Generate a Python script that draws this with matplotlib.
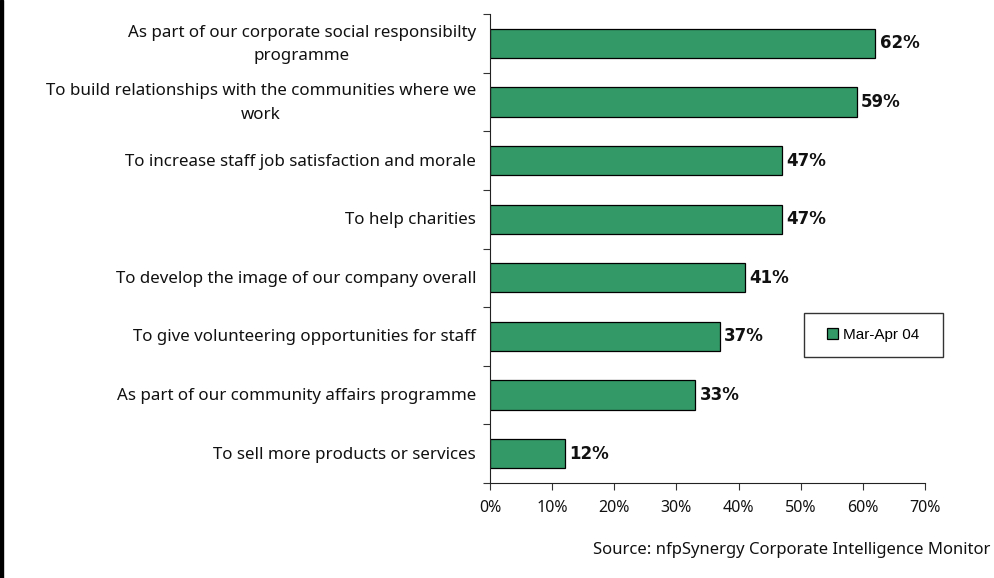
import matplotlib.pyplot as plt
from matplotlib.patches import Rectangle
from matplotlib.ticker import FuncFormatter

reasons = [
    "As part of our corporate social responsibilty\nprogramme",
    "To build relationships with the communities where we\nwork",
    "To increase staff job satisfaction and morale",
    "To help charities",
    "To develop the image of our company overall",
    "To give volunteering opportunities for staff",
    "As part of our community affairs programme",
    "To sell more products or services",
]
share = [62, 59, 47, 47, 41, 37, 33, 12]
xticks = [0, 10, 20, 30, 40, 50, 60, 70]
series_name = "Mar-Apr 04"
source = "Source: nfpSynergy Corporate Intelligence Monitor"

green = "#339966"
txt_font = "Noto Sans"
W, H = 994, 578

fig = plt.figure(figsize=(W / 100, H / 100), dpi=100)
ax = fig.add_axes([490 / W, 1 - 483 / H, 435 / W, 469 / H])

pos = list(range(len(reasons)))[::-1]
bars = ax.barh(pos, share, height=0.5, color=green, edgecolor="black",
               linewidth=0.9, label=series_name)

for y, v in zip(pos, share):
    ax.text(v + 0.7, y, "%d%%" % v, va="center", ha="left",
            fontsize=12, fontweight="bold", family="DejaVu Sans", color="#111111")

ax.set_xlim(0, 70)
ax.set_ylim(-0.5, len(reasons) - 0.5)
ax.set_xticks(xticks)
ax.xaxis.set_major_formatter(FuncFormatter(lambda v, p: "%d%%" % v))

# category separators as ticks, names written beside each bar
ax.set_yticks([p - 0.5 for p in range(len(reasons) + 1)])
ax.set_yticklabels([])
ax.tick_params(axis="y", length=5, direction="out", color="#333333")
for y, name in zip(pos, reasons):
    ax.annotate(name, xy=(0, y), xycoords=("axes fraction", "data"),
                xytext=(-14, -1), textcoords="offset pixels",
                ha="right", va="center", multialignment="center",
                linespacing=1.6, fontsize=12.2, family=txt_font, color="#111111")
ax.tick_params(axis="x", length=5, direction="out", color="#333333",
               labelsize=11.5, pad=7)
for lab in ax.get_xticklabels():
    lab.set_family(txt_font)
    lab.set_color("#111111")

for s in ["top", "right"]:
    ax.spines[s].set_visible(False)
ax.spines["left"].set_color("#222222")
ax.spines["bottom"].set_color("#222222")

# legend box
fig.add_artist(Rectangle((804 / W, 1 - 357 / H), 139 / W, 44 / H,
                         transform=fig.transFigure, facecolor="white",
                         edgecolor="#333333", linewidth=1.0))
fig.legend(handles=[bars], loc="center", bbox_to_anchor=(873 / W, 1 - 335 / H),
           frameon=False, prop={"family": "Liberation Sans", "size": 11},
           handlelength=0.7, handleheight=0.7, handletextpad=0.3,
           borderpad=0, borderaxespad=0)

fig.text(990 / W, 1 - 550 / H, source, ha="right", va="center",
         fontsize=12, family=txt_font, color="#111111")

# dark strip down the left edge
fig.add_artist(Rectangle((0, 0), 3 / W, 1, transform=fig.transFigure,
                         color="black", zorder=10))

fig.savefig("out.png", dpi=100)
